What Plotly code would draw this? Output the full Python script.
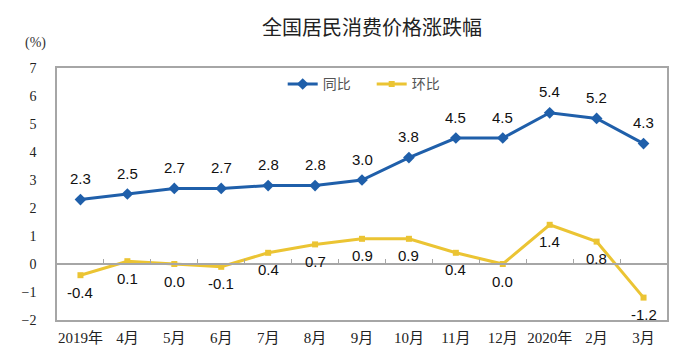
import plotly.graph_objects as go

categories = ["2019年", "4月", "5月", "6月", "7月", "8月", "9月", "10月", "11月", "12月", "2020年", "2月", "3月"]
yoy = [2.3, 2.5, 2.7, 2.7, 2.8, 2.8, 3.0, 3.8, 4.5, 4.5, 5.4, 5.2, 4.3]
mom = [-0.4, 0.1, 0.0, -0.1, 0.4, 0.7, 0.9, 0.9, 0.4, 0.0, 1.4, 0.8, -1.2]
yticks = [-2, -1, 0, 1, 2, 3, 4, 5, 6, 7]

BLUE = "#1f5faa"
YELLOW = "#ebc433"
serif = "Liberation Serif, Noto Sans CJK SC"
sans = "Liberation Sans, Arial, sans-serif"

xs = list(range(len(categories)))
fig = go.Figure()
fig.add_trace(go.Scatter(x=xs, y=yoy, mode="lines+markers", name="同比",
                         line=dict(color=BLUE, width=3),
                         marker=dict(symbol="diamond", size=9, color=BLUE)))
fig.add_trace(go.Scatter(x=xs, y=mom, mode="lines+markers", name="环比",
                         line=dict(color=YELLOW, width=3),
                         marker=dict(symbol="square", size=6, color=YELLOW)))

ann = []
for i, v in enumerate(yoy):
    ann.append(dict(x=i, y=v, text=f"{v:.1f}", showarrow=False, yshift=21,
                    font=dict(family=sans, size=15, color="#111")))
for i, v in enumerate(mom):
    ann.append(dict(x=i, y=v, text=f"{v:.1f}", showarrow=False, yshift=-17,
                    font=dict(family=sans, size=15, color="#111")))
ann.append(dict(xref="paper", yref="paper", x=(48 - 57) / 610, y=(320 - 43) / 252, text="(%)", showarrow=False,
                xanchor="right", yanchor="middle", font=dict(family=serif, size=14, color="#333")))

fig.update_layout(
    width=700, height=350,
    margin=dict(l=57, r=33, t=68, b=30),
    paper_bgcolor="white", plot_bgcolor="white",
    title=dict(text="全国居民消费价格涨跌幅", x=372/700, xanchor="center", y=1-28/350, yanchor="middle",
               font=dict(family="Noto Sans CJK SC", size=20, color="#222")),
    showlegend=True,
    legend=dict(orientation="h", x=0.37, xanchor="left", y=0.935, yanchor="middle",
                font=dict(family="Noto Sans CJK SC", size=14, color="#555"),
                bgcolor="rgba(0,0,0,0)", itemwidth=30, entrywidth=44),
    annotations=ann,
    xaxis=dict(range=[-0.5, len(categories) - 0.5], tickmode="array", tickvals=xs, ticktext=categories,
               showgrid=False, zeroline=False, showline=True, mirror=True, linecolor="#a6a6a6", linewidth=1.5,
               ticks="", automargin=False, ticklabelstandoff=3,
               tickfont=dict(family=serif, size=15, color="#222")),
    xaxis2=dict(overlaying="x", anchor="free", position=2/9, range=[-0.5, len(categories) - 0.5],
                tickmode="array", tickvals=[k - 0.5 for k in range(1, len(categories))],
                ticks="inside", ticklen=4, tickcolor="#a6a6a6", showticklabels=False,
                showline=True, linecolor="#a6a6a6", linewidth=1.5, showgrid=False, zeroline=False),
    yaxis=dict(range=[-2, 7], tickmode="array", tickvals=yticks, showgrid=False, zeroline=False,
               showline=True, mirror=True, linecolor="#a6a6a6", linewidth=1.5, ticks="",
               automargin=False, ticklabelstandoff=16, tickfont=dict(family=serif, size=14, color="#222")),
)
fig.add_trace(go.Scatter(x=[0], y=[0], xaxis="x2", mode="markers", marker=dict(opacity=0),
                         showlegend=False, hoverinfo="skip"))
fig.write_html("out.html")
